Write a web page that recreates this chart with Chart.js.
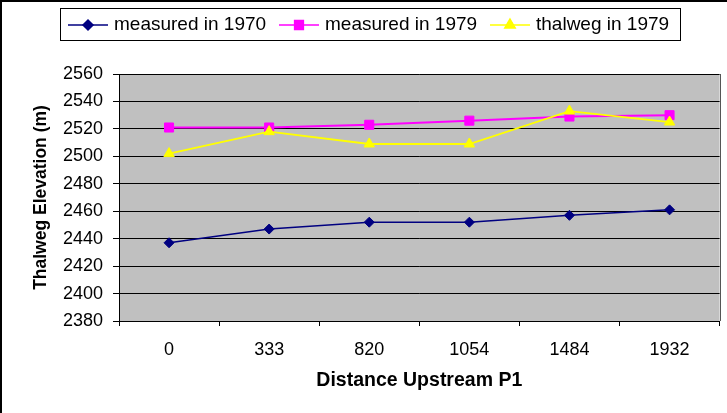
<!DOCTYPE html>
<html>
<head>
<meta charset="utf-8">
<script src="https://cdn.jsdelivr.net/npm/chart.js@4/dist/chart.umd.min.js"></script>
<style>
  html, body { margin: 0; padding: 0; background: #fff; }
  #wrap { width: 727px; height: 413px; position: relative; }
</style>
</head>
<body>
<div id="wrap"><canvas id="c" width="727" height="413"></canvas></div>
<script>
// ---- data ----
const categories = ['0', '333', '820', '1054', '1484', '1932'];
const measured1970 = [2437, 2447, 2452, 2452, 2457, 2461];
const measured1979 = [2521, 2521, 2523, 2526, 2529, 2530];
const thalweg1979 = [2502, 2518, 2509, 2509, 2533, 2525];
const seriesNames = ['measured in 1970', 'measured in 1979', 'thalweg in 1979'];
const yMin = 2380, yMax = 2560, yStep = 20;
const xTitle = 'Distance Upstream P1';
const yTitle = 'Thalweg Elevation (m)';

const FONT = '"Liberation Sans", Arial, sans-serif';

const bgPlugin = {
  id: 'bg',
  beforeDraw(chart) {
    const {ctx, chartArea: a} = chart;
    ctx.save();
    ctx.fillStyle = '#C0C0C0';
    ctx.fillRect(a.left, a.top, a.right - a.left, a.bottom - a.top);
    ctx.restore();
  },
  afterDraw(chart) {
    const {ctx, chartArea: a} = chart;
    ctx.save();
    ctx.strokeStyle = '#555';
    ctx.lineWidth = 1;
    ctx.beginPath();
    ctx.moveTo(Math.round(a.right) + 0.5, a.top);
    ctx.lineTo(Math.round(a.right) + 0.5, a.bottom);
    ctx.stroke();
    ctx.strokeStyle = '#000';
    ctx.lineWidth = 2;
    ctx.beginPath();
    ctx.moveTo(1, 413);
    ctx.lineTo(1, 1);
    ctx.lineTo(727, 1);
    ctx.stroke();
    ctx.restore();
  }
};

const legendPlugin = {
  id: 'customLegend',
  afterDraw(chart) {
    const ctx = chart.ctx;
    ctx.save();
    ctx.strokeStyle = '#000';
    ctx.lineWidth = 1;
    ctx.strokeRect(60.5, 8.5, 620, 32);
    const items = [
      {lx: 68, mx: 88, tx: 114},
      {lx: 279, mx: 299, tx: 325},
      {lx: 490, mx: 510, tx: 536}
    ];
    const ly = 25;
    [0, 1, 2].forEach((di, k) => {
      const ds = chart.data.datasets[di];
      const it = items[k];
      ctx.strokeStyle = ds.borderColor;
      ctx.lineWidth = 1.5;
      ctx.beginPath();
      ctx.moveTo(it.lx, ly);
      ctx.lineTo(it.lx + 40, ly);
      ctx.stroke();
      Chart.helpers.drawPoint(ctx, {
        pointStyle: ds.pointStyle, radius: ds.legendRadius, rotation: 0,
        borderWidth: 1
      }, it.mx, ly);
      ctx.fillStyle = ds.pointBackgroundColor;
      ctx.strokeStyle = ds.pointBorderColor;
      ctx.fill();
      ctx.fillStyle = '#000';
      ctx.font = '19px ' + FONT;
      ctx.textBaseline = 'alphabetic';
      ctx.textAlign = 'left';
      ctx.fillText(ds.label, it.tx, 29.5);
    });
    ctx.restore();
  }
};

new Chart(document.getElementById('c'), {
  type: 'line',
  data: {
    labels: categories,
    datasets: [
      {
        label: seriesNames[0], data: measured1970, order: 2,
        borderColor: '#000080', borderWidth: 1.5,
        pointStyle: 'rectRot', pointRadius: 5, legendRadius: 5,
        pointBackgroundColor: '#000080', pointBorderColor: '#000080', pointBorderWidth: 1
      },
      {
        label: seriesNames[1], data: measured1979, order: 1,
        borderColor: '#FF00FF', borderWidth: 2,
        pointStyle: 'rect', pointRadius: 6.4, legendRadius: 6.2,
        pointBackgroundColor: '#FF00FF', pointBorderColor: '#FF00FF', pointBorderWidth: 1
      },
      {
        label: seriesNames[2], data: thalweg1979, order: 0,
        borderColor: '#FFFF00', borderWidth: 1.8,
        pointStyle: 'triangle', pointRadius: 6, legendRadius: 6,
        pointBackgroundColor: '#FFFF00', pointBorderColor: '#FFFF00', pointBorderWidth: 1
      }
    ]
  },
  options: {
    responsive: false,
    animation: false,
    devicePixelRatio: 1,
    layout: { padding: { top: 74, right: 5, left: 0, bottom: 0 } },
    elements: { line: { tension: 0 } },
    plugins: {
      legend: { display: false },
      tooltip: { enabled: false },
      title: { display: false }
    },
    scales: {
      x: {
        type: 'category',
        offset: true,
        grid: {
          offset: true, drawOnChartArea: false, drawTicks: true,
          tickLength: 5, color: '#000', lineWidth: 1
        },
        border: { display: true, color: '#000', width: 1 },
        ticks: { color: '#000', font: { family: FONT, size: 18 }, padding: 13, maxRotation: 0, autoSkip: false },
        title: {
          display: true, text: xTitle, color: '#000',
          font: { family: FONT, size: 19.5, weight: 'bold' },
          padding: { top: 0, bottom: 21 }
        },
        afterFit(scale) { scale.height = 92; }
      },
      y: {
        min: yMin, max: yMax,
        grid: { color: '#000', lineWidth: 1, drawTicks: true, tickLength: 6, tickColor: '#000' },
        border: { display: true, color: '#000', width: 1 },
        ticks: {
          stepSize: yStep, color: '#000', font: { family: FONT, size: 18 }, padding: 10,
          callback: (v) => String(v)
        },
        title: {
          display: true, text: yTitle, color: '#000',
          font: { family: FONT, size: 17.5, weight: 'bold' },
          padding: { top: 31, bottom: 0 }
        },
        afterFit(scale) { scale.width = 119; }
      }
    }
  },
  plugins: [bgPlugin, legendPlugin]
});
</script>
</body>
</html>
